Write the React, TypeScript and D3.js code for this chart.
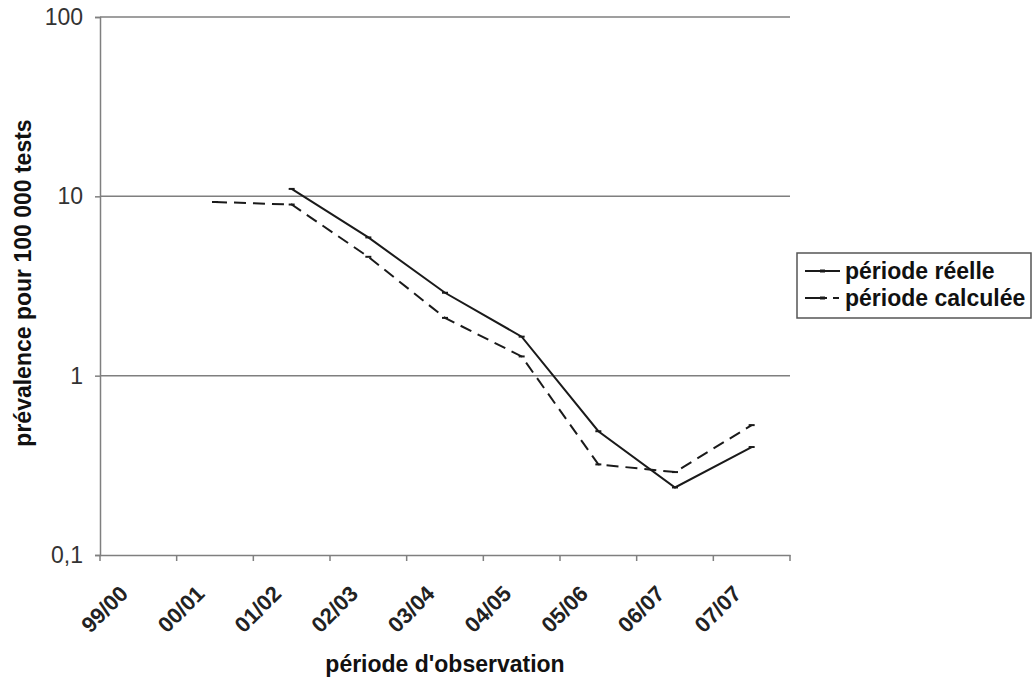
import React, { useRef, useEffect } from 'react';
import * as d3 from 'd3';

// periods shown on the x axis
const periods = ['99/00', '00/01', '01/02', '02/03', '03/04', '04/05', '05/06', '06/07', '07/07'];

// prevalence per 100 000 tests (null = no value)
const reelle = [null, null, 11.0, 5.9, 2.9, 1.65, 0.49, 0.238, 0.40];
const calculee = [null, 9.3, 9.0, 4.6, 2.1, 1.28, 0.32, 0.29, 0.53];

const yTicks = [0.1, 1, 10, 100];
const yTickLabels = ['0,1', '1', '10', '100'];

const seriesNames = ['période réelle', 'période calculée'];

const App = () => {
    const ref = useRef<SVGSVGElement>(null);

    useEffect(() => {
        const svg = d3.select(ref.current);
        svg.selectAll('*').remove();

        const font = 'Liberation Sans, Arial, sans-serif';
        const margin = { top: 17, right: 242, bottom: 124, left: 100 };
        const width = 1032 - margin.left - margin.right;
        const height = 679 - margin.top - margin.bottom;

        const g = svg.append('g').attr('transform', `translate(${margin.left},${margin.top})`);

        const x = d3.scaleBand().domain(periods).range([0, width]);
        const y = d3.scaleLog().domain([0.1, 100]).range([height, 0]);

        // horizontal grid lines
        g.selectAll('.grid')
            .data(yTicks.slice(1))
            .enter()
            .append('line')
            .attr('x1', 0)
            .attr('x2', width)
            .attr('y1', d => y(d))
            .attr('y2', d => y(d))
            .attr('stroke', '#7f7f7f')
            .attr('stroke-width', 1.5);

        // y axis
        const yAxis = g.append('g')
            .call(d3.axisLeft(y).tickValues(yTicks).tickSize(5).tickPadding(12)
                .tickFormat((d, i) => yTickLabels[i]));
        yAxis.selectAll('.domain, .tick line').attr('stroke', '#7f7f7f').attr('stroke-width', 1.5);
        yAxis.selectAll('text')
            .attr('font-family', font)
            .attr('font-size', 23)
            .attr('fill', '#333');

        // x axis, ticks on the band edges
        const xAxis = g.append('g')
            .attr('transform', `translate(0,${height})`)
            .call(d3.axisBottom(x).tickSize(0).tickFormat(() => ''));
        xAxis.select('.domain').attr('stroke', '#7f7f7f').attr('stroke-width', 1.5);
        const edges = periods.map(p => x(p)!).concat([width]);
        xAxis.selectAll('.edge')
            .data(edges)
            .enter()
            .append('line')
            .attr('x1', d => d)
            .attr('x2', d => d)
            .attr('y1', 0)
            .attr('y2', 6)
            .attr('stroke', '#7f7f7f')
            .attr('stroke-width', 1.5);
        xAxis.selectAll('.lbl')
            .data(periods)
            .enter()
            .append('text')
            .attr('transform', d => `translate(${x(d)! + x.bandwidth() / 2 - 9},${40}) rotate(-45)`)
            .attr('text-anchor', 'end')
            .attr('font-family', font)
            .attr('font-size', 22)
            .attr('font-weight', 'bold')
            .attr('fill', '#222')
            .text(d => d);

        // axis titles
        svg.append('text')
            .attr('transform', `translate(31,${margin.top + 266}) rotate(-90)`)
            .attr('text-anchor', 'middle')
            .attr('font-family', font)
            .attr('font-size', 23)
            .attr('font-weight', 'bold')
            .attr('fill', '#111')
            .text('prévalence pour 100 000 tests');
        svg.append('text')
            .attr('x', margin.left + width / 2)
            .attr('y', 672)
            .attr('text-anchor', 'middle')
            .attr('font-family', font)
            .attr('font-size', 23)
            .attr('font-weight', 'bold')
            .attr('fill', '#111')
            .text("période d'observation");

        // lines
        const line = d3.line<number | null>()
            .defined(d => d != null)
            .x((d, i) => x(periods[i])! + x.bandwidth() / 2)
            .y(d => y(d as number));

        const series = [
            { values: reelle, dash: null },
            { values: calculee, dash: '12,7' },
        ];
        series.forEach(s => {
            g.append('path')
                .datum(s.values)
                .attr('fill', 'none')
                .attr('stroke', '#1a1a1a')
                .attr('stroke-width', 2)
                .attr('stroke-dasharray', s.dash)
                .attr('d', line);
            // small dash markers
            g.selectAll(null)
                .data(s.values.map((v, i) => ({ v, i })).filter(d => d.v != null))
                .enter()
                .append('line')
                .attr('x1', d => x(periods[d.i])! + x.bandwidth() / 2 - 3)
                .attr('x2', d => x(periods[d.i])! + x.bandwidth() / 2 + 3)
                .attr('y1', d => y(d.v as number))
                .attr('y2', d => y(d.v as number))
                .attr('stroke', '#1a1a1a')
                .attr('stroke-width', 2);
        });

        // legend
        const lg = svg.append('g').attr('transform', 'translate(797,253)');
        lg.append('rect')
            .attr('width', 234)
            .attr('height', 65)
            .attr('fill', 'white')
            .attr('stroke', '#555')
            .attr('stroke-width', 1.5);
        seriesNames.forEach((name, i) => {
            const yy = 18 + i * 27;
            lg.append('line')
                .attr('x1', 8)
                .attr('x2', 43)
                .attr('y1', yy)
                .attr('y2', yy)
                .attr('stroke', '#1a1a1a')
                .attr('stroke-width', 2)
                .attr('stroke-dasharray', i === 1 ? '22,6,6,20' : null);
            lg.append('line')
                .attr('x1', 23)
                .attr('x2', 28)
                .attr('y1', yy)
                .attr('y2', yy)
                .attr('stroke', '#1a1a1a')
                .attr('stroke-width', 3);
            lg.append('text')
                .attr('x', 48)
                .attr('y', yy + 8)
                .attr('font-family', font)
                .attr('font-size', 23)
                .attr('font-weight', 'bold')
                .attr('fill', '#111')
                .text(name);
        });
    }, []);

    return (
        <svg ref={ref} width={1032} height={679}
            style={{ position: 'absolute', left: 0, top: 0, background: 'white' }} />
    );
};

export default App;
